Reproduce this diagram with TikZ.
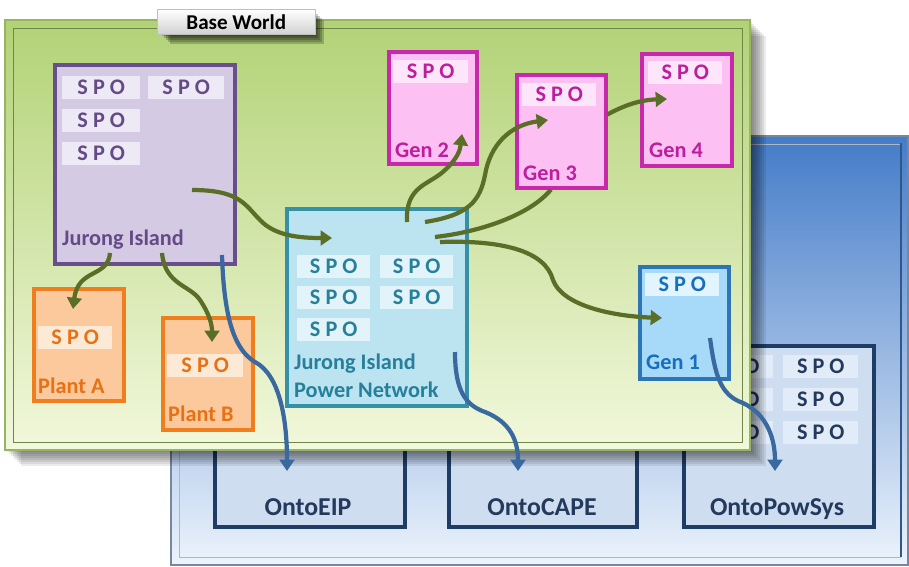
\documentclass[tikz,border=0pt]{standalone}
\usepackage{fontspec}
\setmainfont{Carlito}
\usetikzlibrary{arrows.meta}

\definecolor{wgtop}{RGB}{178,210,118}
\definecolor{wgbot}{RGB}{242,248,220}
\definecolor{wgedge}{RGB}{150,180,100}
\definecolor{wbtop}{RGB}{68,124,200}
\definecolor{wbmid}{RGB}{112,162,230}
\definecolor{wbbot}{RGB}{236,243,252}
\definecolor{wbedge}{RGB}{120,135,160}
\definecolor{jifill}{RGB}{213,202,227}
\definecolor{jiedge}{RGB}{105,78,140}
\definecolor{jitext}{RGB}{100,75,135}
\definecolor{jispo}{RGB}{237,233,245}
\definecolor{plfill}{RGB}{251,201,155}
\definecolor{pledge}{RGB}{240,125,30}
\definecolor{pltext}{RGB}{232,113,22}
\definecolor{plspo}{RGB}{253,234,214}
\definecolor{pnfill}{RGB}{187,227,240}
\definecolor{pnedge}{RGB}{52,145,168}
\definecolor{pntext}{RGB}{38,128,155}
\definecolor{pnspo}{RGB}{226,244,250}
\definecolor{gnfill}{RGB}{253,192,243}
\definecolor{gnedge}{RGB}{200,40,170}
\definecolor{gntext}{RGB}{188,30,158}
\definecolor{gnspo}{RGB}{253,230,250}
\definecolor{g1fill}{RGB}{166,218,248}
\definecolor{g1edge}{RGB}{46,117,182}
\definecolor{g1text}{RGB}{22,110,190}
\definecolor{g1spo}{RGB}{226,244,253}
\definecolor{onfill}{RGB}{207,221,240}
\definecolor{onedge}{RGB}{31,60,100}
\definecolor{ontext}{RGB}{35,58,92}
\definecolor{onspo}{RGB}{226,235,248}
\definecolor{lkgreen}{RGB}{90,110,40}
\definecolor{lkblue}{RGB}{58,105,160}

\tikzset{
  box/.style={draw, line width=3pt, anchor=north west, inner sep=0pt,
    minimum width=2.7cm, minimum height=3.36cm},
  spo/.style={anchor=north west, inner sep=0pt, minimum width=2.34cm,
    minimum height=0.69cm, font=\fontsize{19}{22}\selectfont\bfseries},
  tag/.style={anchor=base west, inner sep=0pt,
    font=\fontsize{19}{22}\selectfont\bfseries},
  ontobox/.style={draw=onedge, fill=onfill, line width=3.4pt,
    anchor=north west, inner sep=0pt, minimum width=5.7cm},
  ontotag/.style={anchor=base, inner sep=0pt, text=ontext,
    font=\fontsize{22}{26}\selectfont\bfseries},
  link/.style={line width=3.6pt, draw=lkgreen,
    -{Triangle[length=3.4mm,width=4.4mm]}},
  map/.style={line width=3.6pt, draw=lkblue,
    -{Triangle[length=3.4mm,width=4.4mm]}}
}

\begin{document}
\begin{tikzpicture}[x=0.03cm, y=-0.03cm]
\useasboundingbox (0,0) rectangle (909,566);

% ontology world at the back
\shade[top color=wbtop, middle color=wbmid, bottom color=wbbot] (171,136) rectangle (908,565);
\draw[wbedge, line width=1.2pt] (171,136) rectangle (908,565);
\draw[wbedge!60, line width=.8pt] (179,144) rectangle (900,557);
\draw[wbtop!70!black, line width=2pt] (901,143) -- (901,557);

\node[ontobox, minimum height=3.45cm] (ontoeip) at (213,410) {};
\node[ontobox, minimum width=5.64cm, minimum height=3.45cm] (ontocape) at (447,410) {};
\node[ontobox, minimum height=5.43cm] (ontopowsys) at (682,344) {};
\node[ontotag] (eiplabel) at (308,515) {OntoEIP};
\node[ontotag] (capelabel) at (542,515) {OntoCAPE};
\node[ontotag] (powsyslabel) at (777,515) {OntoPowSys};
\foreach \y in {355,388,421} {
  \node[spo, fill=onspo, text=ontext, minimum width=2.25cm] (pwl\y) at (698,\y) {S P O};
  \node[spo, fill=onspo, text=ontext, minimum width=2.25cm] (pwr\y) at (783,\y) {S P O};
}

% base world in front
\foreach \i in {2,4,...,16}
  \fill[black, opacity=.08] (5+\i,20+\i) rectangle (750+\i,450+\i);
\shade[top color=wgtop, bottom color=wgbot] (5,20) rectangle (750,450);
\draw[wgedge, line width=1.5pt] (5,20) rectangle (750,450);
\draw[wgedge!75!black, line width=.8pt] (13,28) rectangle (742,442);

\foreach \i in {0,2,...,8}
  \fill[black, opacity=.2] (162+\i,12+\i) rectangle (316+\i,36+\i);
\node[draw=black!25, top color=white, bottom color=black!18, anchor=north west,
  minimum width=4.74cm, minimum height=0.75cm, inner sep=0pt,
  font=\fontsize{18}{21}\selectfont\bfseries] (base) at (157,9) {Base World};

% Jurong Island
\node[box, draw=jiedge, fill=jifill, line width=3.4pt, minimum width=5.4cm, minimum height=5.97cm] (jurong) at (53,63) {};
\node[spo, fill=jispo, text=jitext] (ji1) at (62,76) {S P O};
\node[spo, fill=jispo, text=jitext, minimum width=2.28cm] (ji2) at (148,76) {S P O};
\node[spo, fill=jispo, text=jitext] (ji3) at (62,109) {S P O};
\node[spo, fill=jispo, text=jitext] (ji4) at (62,142) {S P O};
\node[tag, text=jitext] (jilabel) at (62,245) {Jurong Island};

% plants
\node[box, draw=pledge, fill=plfill] (planta) at (32,287) {};
\node[spo, fill=plspo, text=pltext, minimum width=2.22cm] (pa1) at (38,326) {S P O};
\node[tag, text=pltext] (palabel) at (38,393) {Plant A};
\node[box, draw=pledge, fill=plfill] (plantb) at (161,316) {};
\node[spo, fill=plspo, text=pltext, minimum width=2.28cm] (pb1) at (167,354) {S P O};
\node[tag, text=pltext] (pblabel) at (168,421) {Plant B};

% power network
\node[box, draw=pnedge, fill=pnfill, minimum width=5.4cm, minimum height=5.91cm] (jipn) at (285,207) {};
\node[spo, fill=pnspo, text=pntext, minimum width=2.19cm] (pn1) at (297,255) {S P O};
\node[spo, fill=pnspo, text=pntext, minimum width=2.19cm] (pn2) at (380,255) {S P O};
\node[spo, fill=pnspo, text=pntext, minimum width=2.19cm] (pn3) at (297,286) {S P O};
\node[spo, fill=pnspo, text=pntext, minimum width=2.19cm] (pn4) at (380,286) {S P O};
\node[spo, fill=pnspo, text=pntext, minimum width=2.19cm] (pn5) at (297,318) {S P O};
\node[tag, text=pntext] (pnlabel1) at (294,369) {Jurong Island};
\node[tag, text=pntext] (pnlabel2) at (294,397) {Power Network};

% generators
\node[box, draw=gnedge, fill=gnfill, minimum width=2.64cm] (gen2) at (387,50) {};
\node[spo, fill=gnspo, text=gntext, minimum width=2.25cm] (g2s) at (393,60) {S P O};
\node[tag, text=gntext] (g2label) at (395,157) {Gen 2};
\node[box, draw=gnedge, fill=gnfill, minimum width=2.67cm, minimum height=3.39cm] (gen3) at (515,73) {};
\node[spo, fill=gnspo, text=gntext, minimum width=2.22cm] (g3s) at (522,83) {S P O};
\node[tag, text=gntext] (g3label) at (523,180) {Gen 3};
\node[box, draw=gnedge, fill=gnfill] (gen4) at (640,52) {};
\node[spo, fill=gnspo, text=gntext, minimum width=2.22cm] (g4s) at (648,61) {S P O};
\node[tag, text=gntext] (g4label) at (649,157) {Gen 4};
\node[box, draw=g1edge, fill=g1fill, minimum width=2.67cm] (gen1) at (638,265) {};
\node[spo, fill=g1spo, text=g1text, minimum width=2.22cm] (g1s) at (645,273) {S P O};
\node[tag, text=g1text] (g1label) at (646,369) {Gen 1};

% link ends
\coordinate (ji-a) at (192,190);
\coordinate (ji-b) at (110,253);
\coordinate (ji-c) at (162,253);
\coordinate (ji-d) at (222,255);
\coordinate (pn-in) at (332,238);
\coordinate (pn-a) at (407,222);
\coordinate (pn-b) at (425,222);
\coordinate (pn-c) at (435,237);
\coordinate (pn-d) at (440,242);
\coordinate (pn-e) at (455,352);
\coordinate (pa-in) at (73,309);
\coordinate (pb-in) at (212,342);
\coordinate (g2-in) at (462,134);
\coordinate (g3-in) at (548,120);
\coordinate (g4-in) at (667,99);
\coordinate (g1-in) at (662,318);
\coordinate (g1-a) at (710,338);
\coordinate (eip-in) at (287,471);
\coordinate (cape-in) at (518,471);
\coordinate (pow-in) at (775,471);

% links inside the base world
\draw[link] (ji-a) .. controls (240,190) and (245,205) .. (260,220) .. controls (275,236) and (300,238) .. (pn-in);
\draw[link] (ji-b) .. controls (108,278) and (78,268) .. (pa-in);
\draw[link] (ji-c) .. controls (165,285) and (190,285) .. (200,300) .. controls (210,315) and (212,325) .. (pb-in);
\draw[link] (pn-a) .. controls (405,185) and (430,185) .. (445,170) .. controls (458,158) and (460,150) .. (g2-in);
\draw[link] (pn-b) .. controls (470,215) and (480,200) .. (485,175) .. controls (490,145) and (510,125) .. (g3-in);
\draw[link, -] (pn-c) .. controls (480,232) and (530,215) .. (gen3.-100);
\draw[link] (gen3.20) .. controls (625,105) and (640,100) .. (g4-in);
\draw[link] (pn-d) .. controls (500,240) and (545,250) .. (553,280) .. controls (562,305) and (610,316) .. (g1-in);

% mappings to the ontologies
\draw[map] (ji-d) .. controls (224,320) and (235,350) .. (255,362) .. controls (280,375) and (287,420) .. (eip-in);
\draw[map] (pn-e) .. controls (455,390) and (465,405) .. (485,412) .. controls (510,422) and (518,440) .. (cape-in);
\draw[map] (g1-a) .. controls (715,375) and (720,395) .. (743,403) .. controls (768,415) and (775,440) .. (pow-in);
\end{tikzpicture}
\end{document}
